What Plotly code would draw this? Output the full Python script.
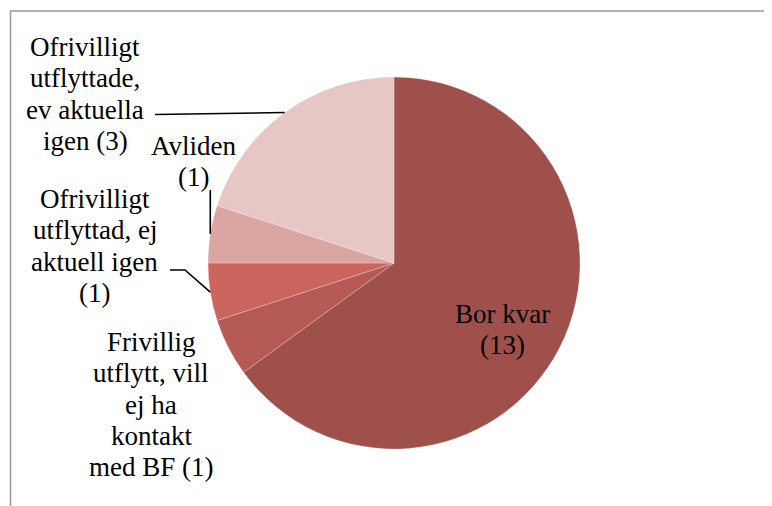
import math
import plotly.graph_objects as go

# ---- data ----
categories = [
    "Bor kvar",
    "Frivillig utflytt, vill ej ha kontakt med BF",
    "Ofrivilligt utflyttad, ej aktuell igen",
    "Avliden",
    "Ofrivilligt utflyttade, ev aktuella igen",
]
values = [13, 1, 1, 1, 4]          # slice sizes as drawn
label_lines = [
    ["Bor kvar", "(13)"],
    ["Frivillig", "utflytt, vill", "ej ha", "kontakt", "med BF (1)"],
    ["Ofrivilligt", "utflyttad, ej", "aktuell igen", "(1)"],
    ["Avliden", "(1)"],
    ["Ofrivilligt", "utflyttade,", "ev aktuella", "igen (3)"],
]
colors = ["#A0504A", "#B55A54", "#CB655E", "#DBA6A2", "#E6C7C5"]

# ---- layout geometry (pixels, window coordinates) ----
W, H = 772, 506
OFF = 8  # page body margin
cx, cy, R = 394, 263, 186
FONT = "Liberation Serif"
FS = 27
LINE = 31.3
# label block: (center x, baseline of first line)
label_pos = [(503, 322), (151, 350), (94.5, 207), (193.5, 154), (85, 55)]


def px(x):
    return (x - OFF) / W


def py(y):
    return 1 - (y - OFF) / H


fig = go.Figure(
    go.Pie(
        labels=categories,
        values=values,
        sort=False,
        direction="clockwise",
        rotation=0,
        marker=dict(colors=colors, line=dict(color="rgba(255,255,255,0.35)", width=0.7)),
        textinfo="none",
        hoverinfo="label+value",
        showlegend=False,
        domain=dict(x=[px(cx - R), px(cx + R)], y=[py(cy + R), py(cy - R)]),
    )
)

annotations = []
for lines, (lx, by) in zip(label_lines, label_pos):
    for i, t in enumerate(lines):
        annotations.append(
            dict(
                text=t, x=px(lx), y=py(by + i * LINE - 0.3 * FS),
                xref="paper", yref="paper", xanchor="center", yanchor="middle",
                showarrow=False, font=dict(family=FONT, size=FS, color="#000000"),
            )
        )

# slice mid-angle edge points (from data)
total = sum(values)
edge = []
cum = 0
for v in values:
    th = math.radians((cum + v / 2) / total * 360)
    edge.append((cx + R * math.sin(th), cy - R * math.cos(th)))
    cum += v

shapes = []
line_style = dict(color="#000000", width=1.6)
# leader for "Ofrivilligt utflyttade, ev aktuella igen"
ex, ey = edge[4]
shapes.append(dict(type="path", xref="paper", yref="paper",
                   path=f"M {px(155)},{py(ey + 2)} L {px(ex)},{py(ey)}", line=line_style))
# leader for "Avliden"
ex, ey = edge[3]
shapes.append(dict(type="path", xref="paper", yref="paper",
                   path=f"M {px(ex)},{py(190)} L {px(ex)},{py(ey)}", line=line_style))
# leader for "Ofrivilligt utflyttad, ej aktuell igen"
ex, ey = edge[2]
shapes.append(dict(type="path", xref="paper", yref="paper",
                   path=f"M {px(170)},{py(270)} L {px(185)},{py(270)} L {px(ex)},{py(ey)}",
                   line=line_style))
# chart frame
shapes.append(dict(type="path", xref="paper", yref="paper",
                   path=f"M {px(10.5)},{py(530)} L {px(10.5)},{py(11)} L {px(800)},{py(11)}",
                   line=dict(color="#9C9C9C", width=1.5)))

fig.update_layout(
    width=W, height=H,
    margin=dict(l=0, r=0, t=0, b=0),
    paper_bgcolor="white",
    plot_bgcolor="white",
    annotations=annotations,
    shapes=shapes,
)

fig.write_html("out.html")
